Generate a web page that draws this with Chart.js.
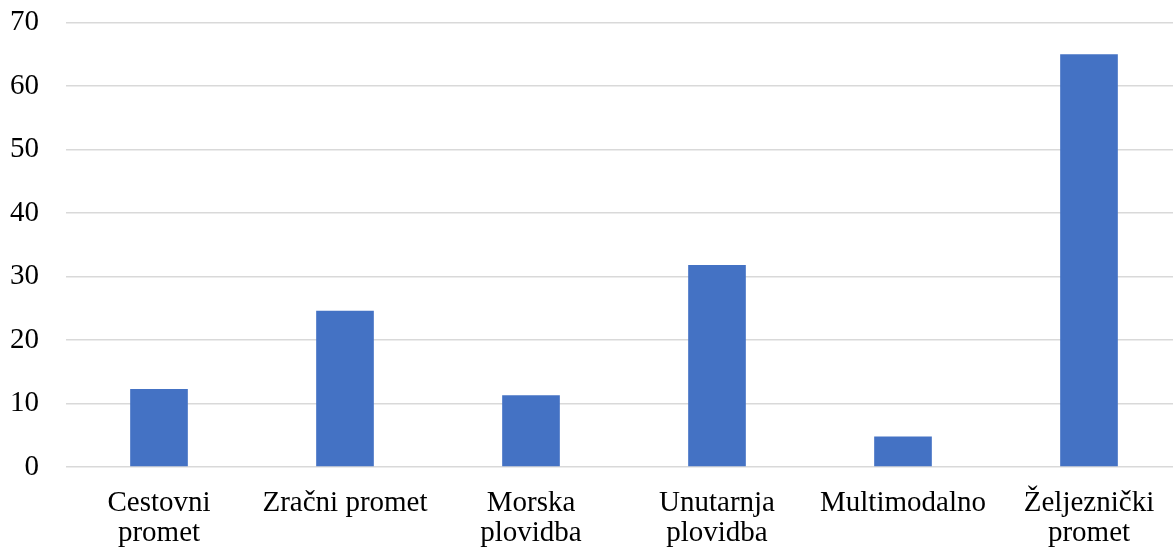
<!DOCTYPE html>
<html>
<head>
<meta charset="utf-8">
<script src="https://cdn.jsdelivr.net/npm/chart.js@4/dist/chart.umd.min.js"></script>
<style>
  html, body { margin: 0; padding: 0; background: #fff; overflow: hidden; }
  /* chart is a bit larger than the window: the reference crops its right edge */
  #wrap { position: absolute; left: -27px; top: -22px; width: 1212px; height: 584px; }
</style>
</head>
<body>
<div id="wrap"><canvas id="transportChart"></canvas></div>
<script>
// Chart data
const categories = [
  ["Cestovni", "promet"],
  "Zračni promet",
  ["Morska", "plovidba"],
  ["Unutarnja", "plovidba"],
  "Multimodalno",
  ["Željeznički", "promet"]
];
const values = [12.3, 24.6, 11.3, 31.8, 4.8, 65.0];
const yMin = 0;
const yMax = 70;
const yStep = 10;

const chartCanvas = document.getElementById("transportChart");

new Chart(chartCanvas, {
  type: "bar",
  data: {
    labels: categories,
    datasets: [{
      data: values,
      backgroundColor: "#4472c4",
      borderWidth: 0,
      barPercentage: 0.31,
      categoryPercentage: 1
    }]
  },
  options: {
    responsive: true,
    maintainAspectRatio: false,
    animation: false,
    layout: {
      padding: { left: 10, right: 3, top: 6, bottom: 0 }
    },
    plugins: {
      legend: { display: false },
      tooltip: { enabled: false }
    },
    scales: {
      x: {
        grid: { display: false },
        border: { display: false },
        ticks: {
          color: "#000",
          padding: 13,
          maxRotation: 0,
          autoSkip: false,
          font: { family: "'Liberation Serif', 'Times New Roman', serif", size: 29, lineHeight: 1.05 }
        }
      },
      y: {
        min: yMin,
        max: yMax,
        border: { display: false },
        grid: { color: "#d9d9d9", lineWidth: 1.5, drawTicks: false },
        ticks: {
          stepSize: yStep,
          color: "#000",
          padding: 27,
          font: { family: "'Liberation Serif', 'Times New Roman', serif", size: 29 }
        }
      }
    }
  }
});
</script>
</body>
</html>
